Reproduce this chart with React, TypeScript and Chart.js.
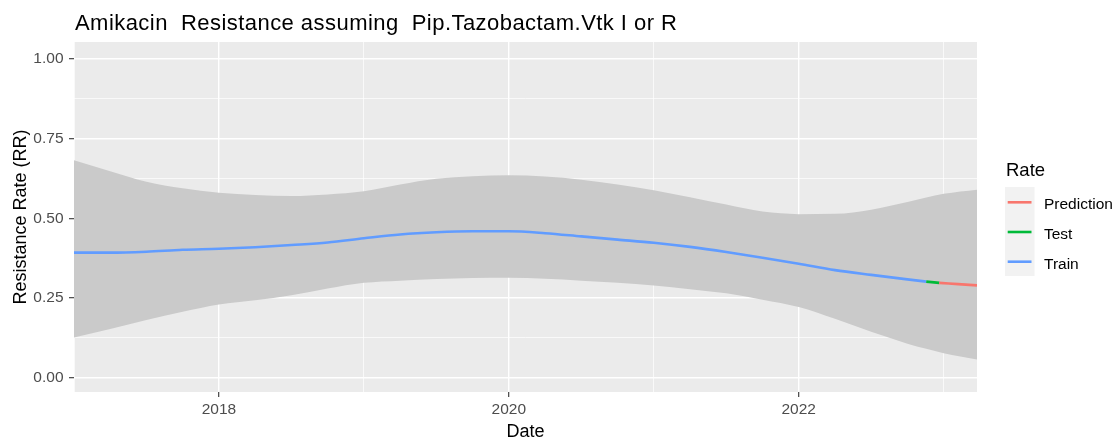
import React, { useEffect, useRef } from 'react';
import { Chart, registerables } from 'chart.js';

Chart.register(...registerables);

const titleText = 'Amikacin  Resistance assuming  Pip.Tazobactam.Vtk I or R';
const xTitle = 'Date';
const yTitle = 'Resistance Rate (RR)';
const legendTitle = 'Rate';
const legendNames = ['Prediction', 'Test', 'Train'];
const legendColors = ['#F8766D', '#00BA38', '#619CFF'];

// Confidence band (decimal years)
const bandDates = [
  2017.0, 2017.25, 2017.5, 2017.75, 2018.0, 2018.25, 2018.5, 2018.75,
  2019.0, 2019.25, 2019.5, 2019.75, 2020.0, 2020.25, 2020.5, 2020.75,
  2021.0, 2021.25, 2021.5, 2021.75, 2022.0, 2022.25, 2022.5, 2022.75,
  2022.88, 2023.0, 2023.23,
];
const bandLower = [
  0.125, 0.152, 0.18, 0.206, 0.229, 0.242, 0.258, 0.279,
  0.297, 0.304, 0.309, 0.312, 0.313, 0.31, 0.304, 0.297,
  0.289, 0.277, 0.264, 0.244, 0.221, 0.184, 0.143, 0.106,
  0.09, 0.076, 0.056,
];
const bandUpper = [
  0.682, 0.648, 0.615, 0.594, 0.58, 0.573, 0.57, 0.575,
  0.585, 0.606, 0.624, 0.632, 0.635, 0.631, 0.621, 0.606,
  0.588, 0.566, 0.543, 0.521, 0.513, 0.514, 0.527, 0.551,
  0.565, 0.577, 0.59,
];

// Train series
const trainDates = [
  2017.0, 2017.25, 2017.5, 2017.75, 2018.0, 2018.25, 2018.5, 2018.75,
  2019.0, 2019.25, 2019.5, 2019.75, 2020.0, 2020.25, 2020.5, 2020.75,
  2021.0, 2021.25, 2021.5, 2021.75, 2022.0, 2022.25, 2022.5, 2022.75,
  2022.88,
];
const trainValues = [
  0.392, 0.392, 0.395, 0.401, 0.404, 0.409, 0.416, 0.424,
  0.437, 0.449, 0.456, 0.459, 0.459, 0.453, 0.443, 0.433,
  0.423, 0.41, 0.394, 0.376, 0.357, 0.337, 0.322, 0.308,
  0.301,
];

// Test series
const testDates = [2022.88, 2022.97];
const testValues = [0.301, 0.297];

// Prediction series
const predDates = [2022.97, 2023.1, 2023.23];
const predValues = [0.297, 0.293, 0.289];

const xTicks = [2017, 2018, 2019, 2020, 2021, 2022, 2023];
const xTickLabels = ['', '2018', '', '2020', '', '2022', ''];
const yTicks = [0, 0.125, 0.25, 0.375, 0.5, 0.625, 0.75, 0.875, 1];
const yTickLabels = ['0.00', '', '0.25', '', '0.50', '', '0.75', '', '1.00'];

const FONT = "'Liberation Sans', Arial, sans-serif";

const pts = (xs: number[], ys: number[]) => xs.map((x, i) => ({ x, y: ys[i] }));

const ggPlugin = {
  id: 'ggDecor',
  beforeDraw(chart: any) {
    const { ctx, chartArea, width, height } = chart;
    ctx.save();
    ctx.fillStyle = '#FFFFFF';
    ctx.fillRect(0, 0, width, height);
    ctx.fillStyle = '#EBEBEB';
    ctx.fillRect(chartArea.left, chartArea.top, chartArea.right - chartArea.left, chartArea.bottom - chartArea.top);
    ctx.restore();
  },
  afterDraw(chart: any) {
    const { ctx, chartArea } = chart;
    ctx.save();
    // title
    ctx.fillStyle = '#000000';
    ctx.font = `22px ${FONT}`;
    ctx.textAlign = 'left';
    ctx.textBaseline = 'alphabetic';
    try { (ctx as any).letterSpacing = '0.45px'; } catch (e) {}
    ctx.fillText(titleText, 75, 30);
    try { (ctx as any).letterSpacing = '0px'; } catch (e) {}
    // x title
    ctx.font = `18px ${FONT}`;
    ctx.textAlign = 'center';
    ctx.fillText(xTitle, (chartArea.left + chartArea.right) / 2, 437);
    // y title
    ctx.save();
    ctx.translate(26, (chartArea.top + chartArea.bottom) / 2);
    ctx.rotate(-Math.PI / 2);
    ctx.fillText(yTitle, 0, 0);
    ctx.restore();
    // legend
    ctx.textAlign = 'left';
    ctx.font = `18.5px ${FONT}`;
    ctx.fillText(legendTitle, 1006, 176);
    ctx.fillStyle = '#F2F2F2';
    ctx.fillRect(1005, 187, 29.5, 89);
    ctx.font = `15.5px ${FONT}`;
    legendNames.forEach((name, i) => {
      const cy = 202.3 + i * 29.7;
      ctx.strokeStyle = legendColors[i];
      ctx.lineWidth = 2.6;
      ctx.beginPath();
      ctx.moveTo(1007.7, cy);
      ctx.lineTo(1031.5, cy);
      ctx.stroke();
      ctx.fillStyle = '#000000';
      ctx.fillText(name, 1044, cy + 7);
    });
    ctx.restore();
  },
};

export default function App() {
  const canvasRef = useRef<HTMLCanvasElement | null>(null);

  useEffect(() => {
    if (!canvasRef.current) return;
    Chart.defaults.font.family = FONT;
    const lineCommon = {
      pointRadius: 0,
      borderWidth: 2.6,
      cubicInterpolationMode: 'monotone' as const,
      fill: false,
    };
    const chart = new Chart(canvasRef.current, {
      type: 'line',
      data: {
        datasets: [
          { ...lineCommon, label: 'Prediction', data: pts(predDates, predValues), borderColor: legendColors[0] },
          { ...lineCommon, label: 'Test', data: pts(testDates, testValues), borderColor: legendColors[1] },
          { ...lineCommon, label: 'Train', data: pts(trainDates, trainValues), borderColor: legendColors[2] },
          {
            label: 'lower', data: pts(bandDates, bandLower), pointRadius: 0, borderWidth: 0,
            borderColor: 'rgba(0,0,0,0)', fill: false, cubicInterpolationMode: 'monotone',
          },
          {
            label: 'upper', data: pts(bandDates, bandUpper), pointRadius: 0, borderWidth: 0,
            borderColor: 'rgba(0,0,0,0)', backgroundColor: '#CACACA', fill: '-1',
            cubicInterpolationMode: 'monotone',
          },
        ],
      },
      options: {
        animation: false,
        responsive: false,
        maintainAspectRatio: false,
        layout: { padding: { top: 42, right: 143, left: 0, bottom: 0 } },
        plugins: {
          legend: { display: false },
          title: { display: false },
          tooltip: { enabled: false },
        },
        scales: {
          x: {
            type: 'linear',
            min: 2017,
            max: 2023.23,
            afterBuildTicks: (s: any) => { s.ticks = xTicks.map((v) => ({ value: v })); },
            afterFit: (s: any) => { s.height = 49; },
            border: { display: false },
            grid: {
              color: '#FFFFFF',
              lineWidth: (c: any) => (c.tick && c.tick.value % 2 === 0 ? 1.4 : 0.7),
              tickColor: (c: any) => (c.tick && c.tick.value % 2 === 0 ? '#333333' : 'rgba(0,0,0,0)'),
              tickLength: 5,
              tickWidth: 1.1,
            },
            ticks: {
              autoSkip: false,
              maxRotation: 0,
              padding: 3,
              color: '#4D4D4D',
              font: { size: 15.5 },
              callback: (v: any) => {
                const i = xTicks.indexOf(Number(v));
                return i >= 0 ? xTickLabels[i] : '';
              },
            },
          },
          y: {
            type: 'linear',
            min: -0.046,
            max: 1.054,
            afterBuildTicks: (s: any) => { s.ticks = yTicks.map((v) => ({ value: v })); },
            afterFit: (s: any) => { s.width = 74; },
            border: { display: false },
            grid: {
              color: '#FFFFFF',
              lineWidth: (c: any) => (c.tick && Math.round(c.tick.value * 1000) % 250 === 0 ? 1.4 : 0.7),
              tickColor: (c: any) => (c.tick && Math.round(c.tick.value * 1000) % 250 === 0 ? '#333333' : 'rgba(0,0,0,0)'),
              tickLength: 5,
              tickWidth: 1.1,
            },
            ticks: {
              autoSkip: false,
              padding: 5.5,
              color: '#4D4D4D',
              font: { size: 15.5 },
              callback: (v: any) => {
                const i = yTicks.findIndex((t) => Math.abs(t - Number(v)) < 1e-6);
                return i >= 0 ? yTickLabels[i] : '';
              },
            },
          },
        },
      },
      plugins: [ggPlugin],
    });
    return () => chart.destroy();
  }, []);

  return (
    <div style={{ position: 'absolute', left: 0, top: 0, width: 1120, height: 441, background: '#FFFFFF' }}>
      <canvas ref={canvasRef} width={1120} height={441} style={{ display: 'block', width: 1120, height: 441 }} />
    </div>
  );
}
